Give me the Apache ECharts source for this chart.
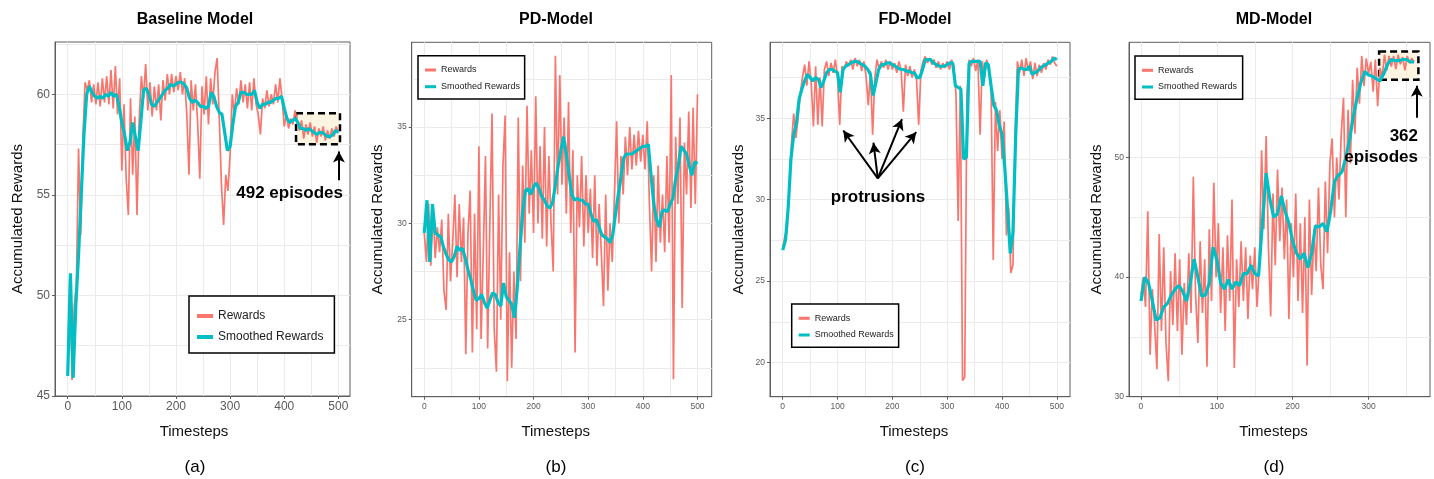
<!DOCTYPE html>
<html>
<head>
<meta charset="utf-8">
<script src="https://cdn.jsdelivr.net/npm/echarts@6/dist/echarts.min.js"></script>
<style>
  html, body { margin: 0; padding: 0; background: #fff; }
  #main { width: 1434px; height: 479px; }
</style>
</head>
<body>
<div id="main"></div>
<script>
// sampling of the traces (timesteps between points)
var rawStep = 4;
var rawStepMD = 3;
var smoothStep = 5;

// tick labels
var xTicks = [0, 100, 200, 300, 400, 500];
var xTicksMD = [0, 100, 200, 300];
var yTicksBase = [45, 50, 55, 60];
var yTicksPD = [25, 30, 35];
var yTicksFD = [20, 25, 30, 35];
var yTicksMD = [30, 40, 50];

// (a) Baseline Model
var baseRewards = [
  46.0, 51.0, 45.8, 49.5, 50.5, 57.3, 53.0, 57.8, 60.6, 60.2,
  60.7, 59.6, 60.5, 59.5, 60.6, 59.4, 60.8, 59.6, 60.9, 59.5,
  61.2, 59.3, 61.4, 59.0, 60.8, 56.2, 59.5, 55.8, 54.0, 59.8,
  56.0, 58.9, 54.0, 58.7, 60.9, 59.8, 61.5, 59.2, 60.6, 58.9,
  60.4, 59.2, 60.5, 58.7, 60.7, 59.7, 61.0, 60.0, 61.0, 60.1,
  60.9, 60.2, 61.1, 60.0, 60.8, 59.0, 56.0, 60.7, 59.2, 60.5,
  58.6, 55.8, 60.4, 59.0, 60.9, 58.5, 60.8, 59.5, 61.1, 61.8,
  58.8, 55.5, 53.5, 56.0, 55.2, 57.0, 60.0, 59.0, 60.3, 59.5,
  60.7, 59.6, 60.5, 59.3, 60.6, 59.2, 60.8, 59.5, 59.0, 58.0,
  59.8, 59.3, 60.2, 59.4, 60.0, 59.5, 60.5, 59.6, 60.8, 59.8,
  58.4, 59.0, 58.3, 58.8, 58.5, 59.2, 58.6, 58.2, 58.7, 57.8,
  58.5, 58.0, 58.6, 57.9, 58.4, 57.6, 58.3, 57.9, 58.4, 57.7,
  58.2, 57.8, 58.3, 57.9, 58.4, 58.1
];
var baseSmooth = [
  46.0, 51.1, 45.9, 49.5, 52.0, 55.0, 58.0, 60.0, 60.4, 60.1,
  59.9, 59.8, 59.9, 59.8, 60.0, 59.9, 60.1, 59.9, 60.0, 59.4,
  58.6, 58.0, 57.2, 57.6, 58.6, 57.9, 57.2, 58.6, 60.2, 60.3,
  60.0, 59.5, 59.4, 59.6, 59.8, 60.0, 60.2, 60.3, 60.5, 60.4,
  60.5, 60.6, 60.6, 60.5, 60.3, 59.8, 59.6, 59.7, 59.6, 59.4,
  59.4, 59.3, 59.4, 60.1, 59.9, 59.4, 59.1, 59.0, 58.1, 57.2,
  57.4, 58.5, 59.4, 59.6, 60.1, 60.1, 60.0, 60.0, 60.0, 60.2,
  59.6, 59.3, 59.5, 59.5, 59.6, 59.6, 59.7, 59.8, 59.8, 59.9,
  59.3, 58.8, 58.6, 58.7, 58.8, 58.6, 58.3, 58.3, 58.2, 58.3,
  58.2, 58.1, 58.0, 58.1, 58.1, 58.0, 57.9, 57.9, 58.0, 58.2,
  58.1
];

// (b) PD-Model
var pdRewards = [
  29.5, 28.0, 31.0, 27.8, 30.8, 28.2, 29.8, 28.5, 30.2, 26.5,
  25.5, 30.5, 27.0, 29.0, 31.5, 27.2, 31.0, 28.0, 30.3, 23.2,
  29.5, 31.7, 23.3, 30.5, 24.5, 34.0, 24.0, 28.5, 33.5, 23.5,
  30.0, 35.7, 24.5, 22.3, 31.5, 25.0, 33.0, 35.6, 21.8, 28.5,
  22.5, 27.5, 24.0, 35.5, 27.0, 33.0, 29.0, 36.1, 30.5, 33.8,
  29.5, 36.6, 30.0, 34.0, 29.2, 35.0, 28.8, 33.5, 30.0, 27.5,
  38.7, 31.5, 37.7, 32.0, 35.5, 30.5, 36.3, 29.5, 33.8, 23.3,
  32.5, 29.8, 33.5, 28.8, 32.5, 29.5, 31.8, 28.2, 32.5, 27.8,
  31.0, 28.5, 25.7, 31.5, 26.5, 30.0, 28.0, 31.5, 35.3, 30.0,
  33.5, 31.5, 34.5, 32.5, 35.0, 32.8, 34.6, 33.0, 34.8, 33.2,
  34.6, 32.8, 35.3, 31.0, 27.5, 32.5, 28.0, 33.0, 29.0, 31.5,
  28.5, 33.5, 29.0, 37.7, 21.9, 34.5, 31.0, 35.5, 25.6, 34.2,
  31.5, 35.8, 30.8, 36.0, 31.0, 36.7
];
var pdSmooth = [
  29.5, 31.2, 28.0, 31.0, 29.5, 29.4, 29.3, 28.8, 28.4, 28.1,
  28.0, 28.3, 28.8, 28.6, 28.7, 28.2, 27.6, 27.1, 26.5, 26.0,
  26.1, 26.3, 25.9, 25.6, 26.0, 26.4, 26.3, 25.9, 25.7, 26.9,
  26.2, 26.0, 25.8, 25.1, 26.6, 28.7, 30.5, 31.7, 31.8, 31.5,
  31.9, 32.1, 31.8, 31.4, 31.2, 30.9, 30.8, 31.1, 32.0, 33.0,
  33.8, 34.5, 33.6, 32.5, 31.5, 31.2, 31.3, 31.2, 31.2, 31.0,
  31.0, 30.5, 30.1, 30.2, 29.8, 29.4, 29.3, 29.2, 29.0, 29.4,
  30.5, 31.5, 32.4, 33.4, 33.6, 33.6, 33.6, 33.7, 33.8, 33.9,
  34.0, 34.0, 34.1, 32.5, 31.0, 30.2, 29.8, 30.6, 30.7, 30.6,
  31.0, 31.3, 32.3, 33.0, 34.0, 33.8, 33.6, 33.0, 32.5, 33.2,
  33.1
];

// (c) FD-Model
var fdRewards = [
  27.0, 27.8, 28.0, 31.0, 33.5, 35.3, 33.8, 35.0, 36.5, 37.5,
  38.3, 37.0, 38.5, 37.2, 34.5, 38.2, 34.6, 37.5, 34.5, 38.0,
  38.5, 37.6, 38.4, 37.8, 38.6, 37.5, 34.6, 38.2, 38.0, 38.5,
  38.2, 38.6, 38.0, 38.7, 38.2, 38.6, 37.9, 38.5, 37.6, 35.8,
  37.9, 34.0, 37.5, 38.6, 38.0, 38.5, 38.1, 38.6, 38.0, 38.5,
  38.0, 38.4, 37.8, 38.5, 38.0, 35.4, 38.3, 37.6, 38.2, 37.5,
  38.0, 37.4, 34.6, 37.9, 38.5, 38.8, 38.4, 38.7, 38.3, 38.6,
  38.1, 38.5, 38.0, 38.4, 38.1, 38.5, 38.0, 38.6, 38.2, 36.5,
  28.7, 37.0, 18.9, 19.1, 36.5, 38.6, 38.2, 38.7, 37.9, 38.6,
  34.0, 38.5, 37.5, 38.6, 38.0, 37.0, 26.3, 36.0, 33.0, 35.5,
  32.5, 34.8, 27.8, 29.5, 25.5, 26.0, 34.0, 38.5, 37.8, 38.6,
  37.6, 38.7, 37.9, 38.5, 37.4, 38.4, 37.6, 38.3, 37.8, 38.4,
  38.0, 38.6, 38.3, 38.8, 38.4, 38.2
];
var fdSmooth = [
  26.9, 27.5, 29.5, 32.5, 34.0, 34.7, 36.2, 36.8, 37.3, 37.7,
  37.5, 37.3, 37.5, 37.4, 36.9, 37.3, 37.8, 38.0, 38.0, 37.9,
  37.8, 36.6, 38.0, 38.2, 38.3, 38.4, 38.5, 38.5, 38.4, 38.3,
  38.2, 38.0, 37.7, 36.4, 37.2, 38.0, 38.3, 38.3, 38.4, 38.4,
  38.3, 38.2, 38.1, 38.0, 38.0, 37.9, 37.9, 37.8, 37.8, 37.5,
  37.5, 38.0, 38.6, 38.6, 38.6, 38.4, 38.3, 38.2, 38.2, 38.2,
  38.3, 38.4, 38.4, 37.0, 36.9, 36.8, 32.5, 32.6, 38.4, 38.5,
  38.5, 38.5, 38.5, 37.0, 38.4, 38.3, 37.0, 35.8, 35.5, 34.6,
  34.0, 32.0, 29.5, 26.7, 28.0, 34.0, 38.0, 38.1, 38.0, 38.0,
  38.2, 37.7, 37.8, 37.9, 38.1, 38.2, 38.3, 38.4, 38.5, 38.7,
  38.6
];

// (d) MD-Model
var mdRewards = [
  38.5, 40.0, 37.5, 45.5, 33.5, 39.0, 36.0, 32.3, 43.6, 35.5,
  42.5, 34.5, 31.3, 40.5, 36.0, 42.0, 35.5, 41.5, 33.5, 39.5,
  36.0, 42.0, 37.0, 48.4, 38.5, 34.5, 43.0, 37.0, 41.5, 32.5,
  44.0, 38.0, 47.9, 40.0, 44.5, 37.0, 42.5, 35.5, 43.5, 38.0,
  46.5, 32.4, 41.5, 37.5, 43.0, 38.0, 42.5, 36.5, 41.8, 39.0,
  42.5, 37.5, 41.0, 50.6, 44.0, 51.8, 42.5, 36.7, 47.0, 41.0,
  49.0, 43.0, 47.5, 41.5, 46.5, 36.5, 44.5, 40.0, 47.0, 38.0,
  44.5, 37.0, 45.0, 32.6, 46.5, 38.5, 44.0, 40.5, 47.5, 41.0,
  39.0, 48.0, 42.0, 49.5, 51.6, 45.0, 50.0, 46.5, 52.0, 55.0,
  45.0, 54.0, 49.5, 56.5, 52.0, 57.5, 54.5, 58.5, 56.0, 58.3,
  57.0, 58.0, 55.5, 58.2, 54.3, 57.5, 56.8, 58.6, 57.3, 58.5,
  57.6, 58.5, 57.4, 58.6, 57.8, 58.4, 57.3, 58.5, 57.9, 58.3,
  58.0
];
var mdSmooth = [
  38.0, 40.0, 39.5, 38.0, 36.4, 36.6, 37.5, 37.8, 38.5, 39.0,
  39.3, 38.8, 38.0, 39.5, 41.5, 40.0, 38.4, 38.5, 39.5, 42.5,
  41.5, 39.5, 39.0, 39.8, 39.0, 39.6, 39.3, 40.3, 40.3, 41.0,
  40.3, 40.1, 44.5, 48.7, 46.5, 45.0, 45.3, 46.8, 45.5, 44.5,
  43.0, 42.0, 41.5, 42.0, 40.8, 42.0, 44.3, 44.2, 44.5, 43.8,
  45.5, 48.0, 48.5, 48.8, 50.0, 51.5, 53.5, 55.0, 56.3, 57.2,
  56.9, 56.8, 56.6, 56.4, 57.0, 57.8, 58.2, 58.1, 58.1, 58.2,
  58.2, 58.0, 58.0
];

var FONT = "'Liberation Sans', Arial, sans-serif";
var RED = '#F8766D';
var CYAN = '#00BFC4';
var FRAME = '#5e5e5e';
var GRIDLINE = '#ebebeb';

function pairs(values, step) {
  return values.map(function (v, i) { return [i * step, v]; });
}

var panels = [
  {
    title: 'Baseline Model', tag: '(a)', cx: 195,
    box: [55, 42, 295, 354], xr: [-23.5, 521.5], yr: [45, 62.6],
    xt: xTicks, yt: yTicksBase, xs: 100, ys: 5,
    raw: baseRewards, sm: baseSmooth, step: rawStep,
    tick: 12, yGap: 30, xPad: 17,
    leg: { left: 189, top: 296, pad: [13, 11, 9, 8], iw: 16, ih: 4, fs: 12, lh: 14, gap: 7 },
    area: [[421.8, 59.06], [503, 57.52]],
    arrows: [[[501, 55.73], [501, 57.15]]]
  },
  {
    title: 'PD-Model', tag: '(b)', cx: 556,
    box: [411.7, 42.3, 300, 354.4], xr: [-23, 526], yr: [21.0, 39.4],
    xt: xTicks, yt: yTicksPD, xs: 100, ys: 5,
    raw: pdRewards, sm: pdSmooth, step: rawStep,
    tick: 8.5, yGap: 26, xPad: 12,
    leg: { left: 418, top: 55.7, pad: [8.8, 4.6, 6.8, 7], iw: 11, ih: 3, fs: 9, lh: 11, gap: 5.7 }
  },
  {
    title: 'FD-Model', tag: '(c)', cx: 915,
    box: [770, 42.3, 300, 354.4], xr: [-23.2, 524], yr: [17.9, 39.67],
    xt: xTicks, yt: yTicksFD, xs: 100, ys: 5,
    raw: fdRewards, sm: fdSmooth, step: rawStep,
    tick: 8.5, yGap: 24, xPad: 12,
    leg: { left: 791.7, top: 304, pad: [8.8, 4.9, 6.8, 7], iw: 11, ih: 3, fs: 9, lh: 11, gap: 5.7 },
    arrows: [
      [[173.4, 31.31], [110.5, 34.25]],
      [[173.4, 31.31], [165.5, 33.5]],
      [[173.4, 31.31], [217.5, 34.95]],
      [[173.4, 31.31], [243.5, 34.15]]
    ]
  },
  {
    title: 'MD-Model', tag: '(d)', cx: 1274,
    box: [1129, 42.3, 301, 354.4], xr: [-15.8, 381], yr: [30, 59.64],
    xt: xTicksMD, yt: yTicksMD, xs: 100, ys: 10,
    raw: mdRewards, sm: mdSmooth, step: rawStepMD,
    tick: 8.5, yGap: 25, xPad: 12,
    leg: { left: 1135, top: 56, pad: [8.8, 5.6, 6.8, 7], iw: 11, ih: 3, fs: 9, lh: 11, gap: 5.7 },
    area: [[313.9, 58.87], [365.7, 56.5]],
    arrows: [[[363.6, 53.32], [363.6, 56.0]]]
  }
];

var grids = [], xAxes = [], yAxes = [], series = [], legends = [], titles = [];

panels.forEach(function (p, k) {
  grids.push({
    left: p.box[0], top: p.box[1], width: p.box[2], height: p.box[3],
    show: true, borderColor: FRAME, borderWidth: 1, backgroundColor: '#fff'
  });

  // main axes: ticks and labels only
  xAxes.push({
    gridIndex: k, type: 'value', position: 'bottom',
    min: p.xr[0], max: p.xr[1], minInterval: p.xs, maxInterval: p.xs,
    axisLine: { show: true, onZero: false, lineStyle: { color: FRAME, width: 1 } },
    axisTick: { show: true, length: 3, customValues: p.xt, lineStyle: { color: FRAME } },
    axisLabel: {
      customValues: p.xt, color: '#5a5a5a', fontSize: p.tick, fontFamily: FONT, margin: 5,
      formatter: function (v) { return p.xt.indexOf(v) >= 0 ? String(v) : ''; }
    },
    splitLine: { show: false },
    name: 'Timesteps', nameLocation: 'middle', nameGap: 28,
    nameTextStyle: { color: '#111', fontSize: 15, fontFamily: FONT, padding: [0, p.xPad, 0, 0] }
  });
  // second axis only draws the light grid (major + minor)
  xAxes.push({
    gridIndex: k, type: 'value', position: 'top',
    min: p.xr[0], max: p.xr[1], minInterval: p.xs / 2, maxInterval: p.xs / 2,
    axisLine: { show: false }, axisTick: { show: false }, axisLabel: { show: false },
    splitLine: { show: true, showMinLine: false, showMaxLine: false, lineStyle: { color: GRIDLINE, width: 1 } }
  });

  yAxes.push({
    gridIndex: k, type: 'value', position: 'left',
    min: p.yr[0], max: p.yr[1], minInterval: p.ys, maxInterval: p.ys,
    axisLine: { show: true, onZero: false, lineStyle: { color: FRAME, width: 1 } },
    axisTick: { show: true, length: 3, customValues: p.yt, lineStyle: { color: FRAME } },
    axisLabel: {
      customValues: p.yt, color: '#5a5a5a', fontSize: p.tick, fontFamily: FONT, margin: 5,
      formatter: function (v) { return p.yt.indexOf(v) >= 0 ? String(v) : ''; }
    },
    splitLine: { show: false },
    name: 'Accumulated Rewards', nameLocation: 'middle', nameGap: p.yGap, nameRotate: 90,
    nameTextStyle: { color: '#111', fontSize: 15, fontFamily: FONT }
  });
  yAxes.push({
    gridIndex: k, type: 'value', position: 'right',
    min: p.yr[0], max: p.yr[1], minInterval: p.ys / 2, maxInterval: p.ys / 2,
    axisLine: { show: false }, axisTick: { show: false }, axisLabel: { show: false },
    splitLine: { show: true, showMinLine: false, showMaxLine: false, lineStyle: { color: GRIDLINE, width: 1 } }
  });

  series.push({
    name: 'Rewards', type: 'line', xAxisIndex: 2 * k, yAxisIndex: 2 * k,
    data: pairs(p.raw, p.step), symbol: 'none', z: 2,
    lineStyle: { color: RED, width: 1.7 }, itemStyle: { color: RED }
  });

  var smooth = {
    name: 'Smoothed Rewards', type: 'line', xAxisIndex: 2 * k, yAxisIndex: 2 * k,
    data: pairs(p.sm, smoothStep), symbol: 'none', z: 3,
    lineStyle: { color: CYAN, width: 3.2 }, itemStyle: { color: CYAN }
  };
  if (p.area) {
    smooth.markArea = {
      silent: true,
      itemStyle: { color: 'rgba(252,236,205,0.6)', borderColor: '#000', borderWidth: 2.5, borderType: [7, 4] },
      data: [[{ coord: p.area[0] }, { coord: p.area[1] }]]
    };
  }
  if (p.arrows) {
    smooth.markLine = {
      silent: true, symbol: ['none', 'arrow'], symbolSize: [9, 11],
      lineStyle: { color: '#000', width: 2, type: 'solid' },
      label: { show: false },
      data: p.arrows.map(function (a) { return [{ coord: a[0] }, { coord: a[1] }]; })
    };
  }
  series.push(smooth);

  legends.push({
    orient: 'vertical', left: p.leg.left, top: p.leg.top, padding: p.leg.pad,
    itemGap: p.leg.gap, itemWidth: p.leg.iw, itemHeight: p.leg.ih, icon: 'rect',
    borderColor: '#000', borderWidth: 1.5, backgroundColor: '#fff', selectedMode: false,
    textStyle: { fontSize: p.leg.fs, lineHeight: p.leg.lh, fontFamily: FONT, color: '#222' },
    data: ['Rewards', 'Smoothed Rewards']
  });

  titles.push({
    text: p.title, left: p.cx, top: 12, textAlign: 'center', padding: 0,
    textStyle: { fontSize: 16, fontWeight: 'bold', fontFamily: FONT, color: '#000' }
  });
});

// annotation and caption text, drawn above the panels
var label = function (txt, x, y, size, bold, align) {
  return {
    type: 'text', x: x, y: y, z: 100, silent: true,
    style: {
      text: txt, fill: '#000', align: align || 'center', verticalAlign: 'middle',
      font: (bold ? 'bold ' : '') + size + 'px ' + FONT
    }
  };
};

var graphics = [
  label('492 episodes', 343, 193, 17, true, 'right'),
  label('protrusions', 878, 197, 17, true),
  label('362', 1418, 136, 17, true, 'right'),
  label('episodes', 1418, 157, 17, true, 'right')
];
panels.forEach(function (p) {
  graphics.push(label(p.tag, p.cx, 467, 17, false));
});

var myChart = echarts.init(document.getElementById('main'));
myChart.setOption({
  animation: false,
  backgroundColor: '#fff',
  title: titles,
  legend: legends,
  grid: grids,
  xAxis: xAxes,
  yAxis: yAxes,
  series: series,
  graphic: graphics
});
</script>
</body>
</html>
